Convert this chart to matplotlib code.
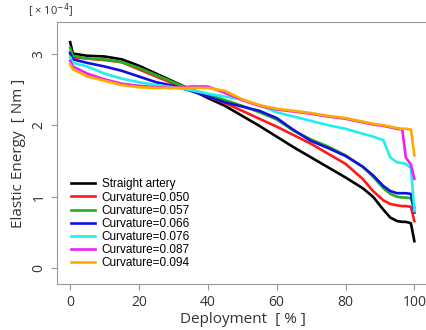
import matplotlib
matplotlib.use("Agg")
import matplotlib.pyplot as plt

deployment = [0, 0.8, 5, 10, 15, 20, 25, 30, 35, 40, 45, 50, 55, 60, 65, 70, 75, 80,
              85, 88, 91, 93, 95, 96.5, 97.5, 99, 100]

straight = [3.16, 3.0, 2.97, 2.96, 2.92, 2.83, 2.72, 2.61, 2.50, 2.38, 2.27, 2.13, 1.99, 1.84,
            1.69, 1.55, 1.41, 1.27, 1.12, 1.0, 0.82, 0.71, 0.66, 0.65, 0.65, 0.63, 0.38]
curv050 = [3.02, 2.95, 2.93, 2.91, 2.88, 2.78, 2.68, 2.58, 2.50, 2.40, 2.31, 2.20, 2.09, 1.98,
           1.86, 1.74, 1.60, 1.46, 1.25, 1.08, 0.95, 0.90, 0.88, 0.87, 0.87, 0.86, 0.66]
curv057 = [3.08, 2.97, 2.93, 2.92, 2.88, 2.80, 2.70, 2.60, 2.50, 2.43, 2.35, 2.27, 2.18, 2.08,
           1.92, 1.80, 1.70, 1.58, 1.42, 1.28, 1.12, 1.04, 1.00, 0.99, 0.99, 0.98, 0.85]
curv066 = [3.0, 2.92, 2.87, 2.82, 2.76, 2.68, 2.60, 2.55, 2.48, 2.40, 2.32, 2.26, 2.20, 2.10,
           1.93, 1.78, 1.68, 1.57, 1.42, 1.30, 1.15, 1.08, 1.05, 1.05, 1.05, 1.04, 0.78]
curv076 = [2.95, 2.87, 2.82, 2.72, 2.65, 2.60, 2.56, 2.53, 2.49, 2.44, 2.40, 2.36, 2.28, 2.18,
           2.12, 2.06, 2.0, 1.95, 1.88, 1.84, 1.79, 1.55, 1.48, 1.47, 1.46, 1.40, 0.80]
curv087 = [2.9, 2.82, 2.72, 2.64, 2.58, 2.55, 2.53, 2.52, 2.54, 2.54, 2.45, 2.35, 2.27, 2.22,
           2.19, 2.16, 2.12, 2.09, 2.04, 2.01, 1.99, 1.97, 1.95, 1.94, 1.55, 1.45, 1.25]
curv094 = [2.85, 2.78, 2.68, 2.62, 2.56, 2.53, 2.52, 2.52, 2.52, 2.52, 2.48, 2.36, 2.28, 2.23,
           2.20, 2.17, 2.13, 2.10, 2.05, 2.02, 2.00, 1.98, 1.96, 1.95, 1.95, 1.94, 1.58]

labels = ["Straight artery", "Curvature=0.050", "Curvature=0.057", "Curvature=0.066",
          "Curvature=0.076", "Curvature=0.087", "Curvature=0.094"]
colors = ["black", "#ff1a1a", "#22b022", "#1010e0", "#22eeee", "#ee22ee", "#ffaa00"]
series = [straight, curv050, curv057, curv066, curv076, curv087, curv094]

plt.rcParams['font.family'] = ['Open Sans', 'DejaVu Sans']

fig = plt.figure(figsize=(4.26, 3.30), dpi=100)
ax = fig.add_axes([0.134, 0.139, 0.871, 0.794])

for ys, c, lab in zip(series, colors, labels):
    ax.plot(deployment, ys, color=c, lw=1.9, label=lab)

ax.set_xlim(-3.8, 104)
ax.set_ylim(-0.22, 3.44)
ax.set_xticks([0, 20, 40, 60, 80, 100])
ax.set_yticks([0, 1, 2, 3])
for s in ax.spines.values():
    s.set_color("#999999")
ax.tick_params(direction="out", length=4, color="#999999", labelsize=10, labelcolor="#333333")
for t in ax.get_yticklabels():
    t.set_rotation(90)
    t.set_va("center")

ax.set_xlabel("Deployment  [ % ]", fontsize=11, color="#333333", labelpad=2)
ax.set_ylabel("Elastic Energy  [ Nm ]", fontsize=11, color="#333333", labelpad=4)
fig.text(0.065, 0.955, "[ \u00d7 10$^{-4}$]", fontsize=8, color="#333333")

ax.legend(loc="upper left", bbox_to_anchor=(0.015, 0.435), frameon=False,
          prop={"family": "Liberation Sans", "size": 8.5},
          handlelength=2.0, handletextpad=0.6, labelspacing=0.1, borderpad=0.2)

fig.savefig("out.png", dpi=100)
